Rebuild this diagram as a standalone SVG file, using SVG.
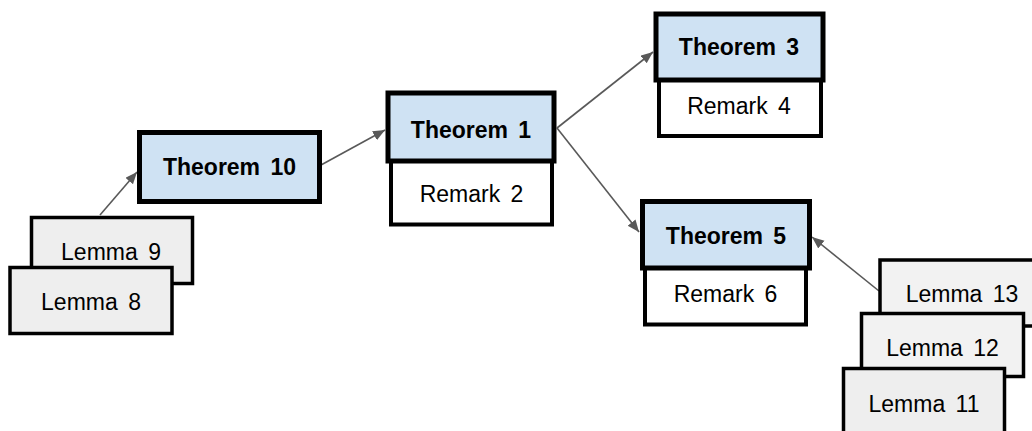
<svg xmlns="http://www.w3.org/2000/svg" width="1032" height="431" viewBox="0 0 1032 431">
<style>
.thm{fill:#cfe2f3;stroke:#000;stroke-width:5}
.rem{fill:#fff;stroke:#000;stroke-width:4}
.lem{fill:#eeeeee;stroke:#000;stroke-width:3.5}
.lem2{fill:#f2f2f2;stroke:#000;stroke-width:3.5}
.t{font-family:"Liberation Sans",Arial,sans-serif;font-size:23px;text-anchor:middle;fill:#000;word-spacing:4px}
.b{font-weight:bold}
.c{stroke:#595959;stroke-width:1.6;fill:none;marker-end:url(#ah)}
</style>
<defs>
<marker id="ah" markerUnits="userSpaceOnUse" markerWidth="13" markerHeight="11" refX="12" refY="5" orient="auto">
<path d="M0,0 L12,5 L0,10 z" fill="#595959"/>
</marker>
</defs>
<rect width="1032" height="431" fill="#fff"/>
<g id="connectors">
<line class="c" x1="100" y1="215" x2="137" y2="172"/>
<line class="c" x1="321" y1="165" x2="385" y2="130"/>
<line class="c" x1="557" y1="128" x2="653" y2="52"/>
<line class="c" x1="557" y1="128" x2="639" y2="232"/>
<line class="c" x1="879" y1="291" x2="812" y2="237"/>
</g>
<g id="lemma9">
<rect class="lem" x="31.5" y="217.5" width="161" height="66"/>
<text class="t" x="111" y="260">Lemma 9</text>
</g>
<g id="lemma8">
<rect class="lem" x="10" y="267.5" width="162" height="66"/>
<text class="t" x="91" y="310">Lemma 8</text>
</g>
<g id="theorem10">
<rect class="thm" x="139.5" y="132.5" width="180" height="69"/>
<text class="t b" x="229.5" y="175">Theorem 10</text>
</g>
<g id="theorem1">
<rect class="rem" x="391" y="161" width="161" height="63.5"/>
<text class="t" x="471.5" y="201.5">Remark 2</text>
<rect class="thm" x="388" y="93" width="166" height="68"/>
<text class="t b" x="471" y="137.5">Theorem 1</text>
</g>
<g id="theorem3">
<rect class="rem" x="659" y="80" width="162" height="56"/>
<text class="t" x="739" y="113.5">Remark 4</text>
<rect class="thm" x="656" y="14" width="167" height="66"/>
<text class="t b" x="739" y="55">Theorem 3</text>
</g>
<g id="theorem5">
<rect class="rem" x="645" y="268" width="161" height="56.5"/>
<text class="t" x="725.5" y="301.5">Remark 6</text>
<rect class="thm" x="642.5" y="201.5" width="167" height="66.5"/>
<text class="t b" x="726" y="244">Theorem 5</text>
</g>
<g id="lemma13">
<rect class="lem2" x="880" y="260" width="163" height="66"/>
<text class="t" x="962" y="301.5">Lemma 13</text>
</g>
<g id="lemma12">
<rect class="lem2" x="861.5" y="313.5" width="162" height="63"/>
<text class="t" x="942.5" y="355.5">Lemma 12</text>
</g>
<g id="lemma11">
<rect class="lem" x="843.5" y="368.5" width="161" height="70"/>
<text class="t" x="924" y="411.5">Lemma 11</text>
</g>
</svg>
